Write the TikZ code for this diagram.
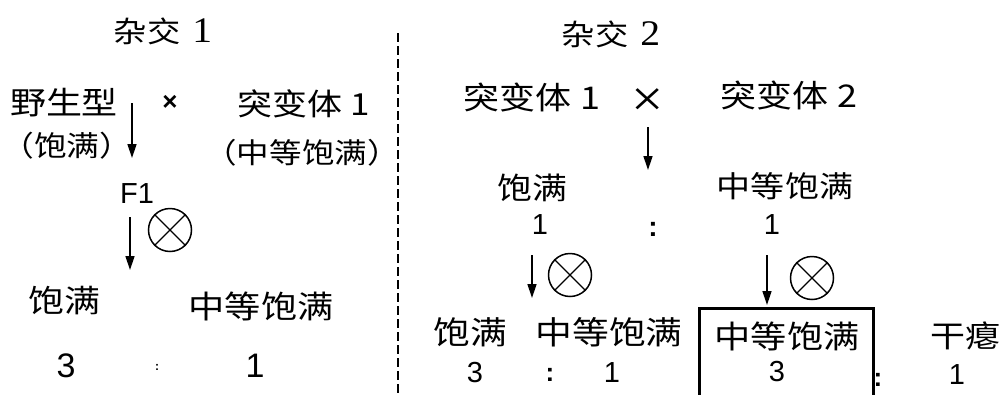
\documentclass[tikz,border=0pt]{standalone}
\usepackage{fontspec}
\setmainfont{Liberation Sans}
\newfontfamily\cjk[FakeStretch=1.15]{Noto Sans CJK SC}
\newfontfamily\serifdigit[FakeStretch=1.1]{Liberation Serif}
\usetikzlibrary{arrows.meta}
\newcommand\setfs[1]{\fontsize{#1}{#1}\selectfont}
\begin{document}
\begin{tikzpicture}[x=1pt,y=-1pt,
  txt/.style={inner sep=0pt, anchor=center, font=\cjk},
  num/.style={inner sep=0pt, anchor=center},
  arr/.style={line width=1.4pt, -{Triangle[length=14pt,width=9pt]}},
  selfx/.style={circle, draw, line width=1.5pt, minimum size=43pt, inner sep=0pt},
  divider/.style={line width=1.2pt, dash pattern=on 9pt off 4pt},
  boxed/.style={draw, line width=3pt, minimum width=174pt, minimum height=130pt, anchor=north west, inner sep=0pt}
]
\useasboundingbox (0,0) rectangle (1004,394);
\clip (0,0) rectangle (1004,394);
% ---------- cross 1 ----------
\node[txt] (t1) at (163,31) {\setfs{29}杂交\hspace{12pt}{\serifdigit\setfs{36}1}};
\node[txt] (wt) at (64,103) {\setfs{31.3}野生型};
\node[num] (x1) at (170,103) {\setfs{26}\bfseries ×};
\node[txt] (m1) at (304,104) {\setfs{30.4}突变体 1};
\node[txt] (wtp) at (67,146) {\setfs{28.5}（饱满）};
\node[txt] (m1p) at (302,153) {\setfs{28.3}（中等饱满）};
\node[num] (f1) at (137,194) {\setfs{29}F1};
\node[selfx] (s1) at (170,230) {};
\draw[line width=1.3pt] (s1.45) -- (s1.225) (s1.135) -- (s1.315);
\node[txt] (b1) at (64,301) {\setfs{31.3}饱满};
\node[txt] (b2) at (261,306) {\setfs{31.5}中等饱满};
\node[num] (r1) at (66,366) {\setfs{34}3};
\node[num] (c1) at (157,367) {\setfs{12}\bfseries :};
\node[num] (r2) at (255,366) {\setfs{34}1};
\coordinate (a1s) at (132,103);
\coordinate (a1e) at (132,158);
\coordinate (a2s) at (130,217);
\coordinate (a2e) at (130,270);
\draw[arr] (a1s) -- (a1e);
\draw[arr] (a2s) -- (a2e);
% ---------- divider ----------
\coordinate (d1) at (398,33);
\coordinate (d2) at (398,400);
\draw[divider] (d1) -- (d2);
% ---------- cross 2 ----------
\node[txt] (t2) at (611,34) {\setfs{29}杂交\hspace{12pt}{\serifdigit\setfs{36}2}};
\node[txt] (m1r) at (532,97) {\setfs{31.3}突变体 1};
\node[num] (x2) at (648,103) {\serifdigit\setfs{52}×};
\node[txt] (m2) at (789,95) {\setfs{31.3}突变体 2};
\node[txt] (p1) at (532,188) {\setfs{30.4}饱满};
\node[txt] (p2) at (785,186) {\setfs{29.6}中等饱满};
\node[num] (n1) at (540,225) {\setfs{29}1};
\node[num] (cc) at (653,229) {\setfs{28}\bfseries :};
\node[num] (n2) at (772,225) {\setfs{29}1};
\coordinate (a3s) at (648,127);
\coordinate (a3e) at (648,170);
\draw[arr] (a3s) -- (a3e);
\coordinate (a4s) at (532,255);
\coordinate (a4e) at (532,298);
\draw[arr] (a4s) -- (a4e);
\node[selfx] (s2) at (570,275) {};
\draw[line width=1.3pt] (s2.45) -- (s2.225) (s2.135) -- (s2.315);
\node[boxed] (box) at (698,307) {};
\coordinate (a5s) at (767,255);
\coordinate (a5e) at (767,305);
\draw[arr] (a5s) -- (a5e);
\node[selfx] (s3) at (812,278) {};
\draw[line width=1.3pt] (s3.45) -- (s3.225) (s3.135) -- (s3.315);
\node[txt] (q1) at (470,332) {\setfs{32}饱满};
\node[txt] (q2) at (609,332) {\setfs{32}中等饱满};
\node[txt] (q3) at (787,336) {\setfs{31.5}中等饱满};
\node[txt] (q4) at (965,336) {\setfs{30.4}干瘪};
\node[num] (k1) at (475,373) {\setfs{29}3};
\node[num] (k2) at (550,375) {\setfs{26}\bfseries :};
\node[num] (k3) at (612,373) {\setfs{29}1};
\node[num] (k4) at (777,372) {\setfs{29}3};
\node[num] (k5) at (878,380) {\setfs{26}\bfseries :};
\node[num] (k6) at (957,375) {\setfs{29}1};
\end{tikzpicture}
\end{document}
